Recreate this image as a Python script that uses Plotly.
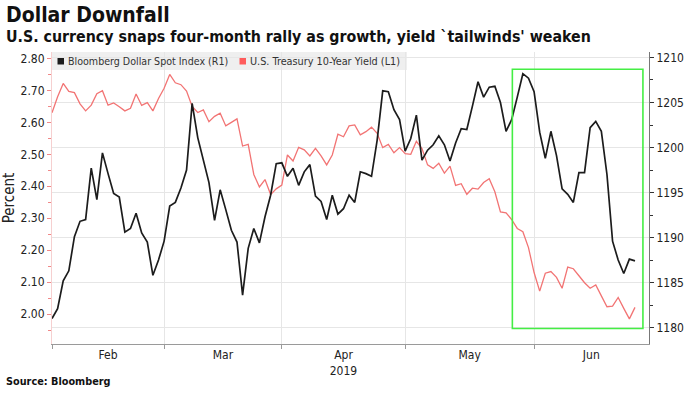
import pandas as pd
import plotly.graph_objects as go

# ---------------- data ----------------
start_date = "2019-02-01"  # first trading day shown; one value per weekday

dollar_index = [
    1181.0, 1182.1, 1185.2, 1186.3, 1190.1, 1191.8, 1192.0, 1197.7, 1194.2, 1199.4,
    1197.1, 1194.9, 1194.5, 1190.6, 1191.0, 1192.7, 1190.5, 1189.5, 1185.8, 1187.5,
    1189.6, 1193.5, 1193.9, 1195.5, 1197.5, 1204.9, 1201.1, 1198.6, 1196.1, 1191.9,
    1195.3, 1193.1, 1190.8, 1189.5, 1183.6, 1188.8, 1191.0, 1189.4, 1192.3, 1194.7,
    1198.2, 1198.3, 1196.8, 1197.7, 1195.8, 1197.3, 1198.1, 1194.6, 1194.0, 1192.0,
    1194.7, 1192.6, 1193.2, 1194.7, 1193.9, 1197.3, 1197.1, 1196.8, 1200.8, 1206.3,
    1206.2, 1204.2, 1203.1, 1199.6, 1201.0, 1203.6, 1198.6, 1199.7, 1200.3, 1201.3,
    1200.3, 1198.5, 1200.5, 1202.1, 1202.0, 1204.6, 1207.3, 1205.6, 1206.7, 1206.8,
    1205.0, 1201.8, 1203.1, 1205.6, 1208.2, 1207.7, 1206.2, 1201.7, 1198.8, 1201.8,
    1199.1, 1195.4, 1194.8, 1193.9, 1197.2, 1197.2, 1202.2, 1202.9, 1201.8, 1197.0,
    1189.6, 1187.5, 1186.0, 1187.6, 1187.4,
]

treasury_yield = [
    2.630, 2.680, 2.722, 2.697, 2.693, 2.658, 2.636, 2.654, 2.690, 2.699,
    2.654, 2.661, 2.649, 2.636, 2.644, 2.689, 2.653, 2.662, 2.636, 2.675,
    2.707, 2.750, 2.724, 2.718, 2.698, 2.650, 2.631, 2.639, 2.602, 2.619,
    2.629, 2.589, 2.600, 2.611, 2.526, 2.531, 2.437, 2.398, 2.421, 2.374,
    2.392, 2.404, 2.498, 2.479, 2.522, 2.514, 2.495, 2.519, 2.495, 2.467,
    2.498, 2.563, 2.555, 2.589, 2.592, 2.561, 2.571, 2.585, 2.566, 2.521,
    2.531, 2.505, 2.521, 2.502, 2.500, 2.541, 2.518, 2.467, 2.456, 2.472,
    2.441, 2.463, 2.403, 2.408, 2.375, 2.394, 2.391, 2.412, 2.424, 2.383,
    2.320, 2.317, 2.296, 2.268, 2.258, 2.208, 2.130, 2.072, 2.128, 2.133,
    2.115, 2.081, 2.147, 2.142, 2.120, 2.098, 2.081, 2.091, 2.057, 2.023,
    2.025, 2.052, 2.018, 1.985, 2.021,
]

month_labels = ["Feb", "Mar", "Apr<br>2019", "May", "Jun"]
month_label_dates = ["2019-02-15", "2019-03-15 12:00", "2019-04-16",
                     "2019-05-16 12:00", "2019-06-17 05:00"]
month_start_dates = ["2019-02-01", "2019-03-01", "2019-04-01", "2019-05-01", "2019-06-03"]

left_ticks = [2.00, 2.10, 2.20, 2.30, 2.40, 2.50, 2.60, 2.70, 2.80]
right_ticks = [1180, 1185, 1190, 1195, 1200, 1205, 1210]

highlight_x = ["2019-05-28 03:00", "2019-06-28 10:00"]
highlight_y = [1179.9, 1208.7]

series_names = ["Bloomberg Dollar Spot Index (R1)", "U.S. Treasury 10-Year Yield (L1)"]

# ---------------- layout helpers ----------------
W, H = 689, 393
ML, MR, MT, MB = 52, 40, 52, 49
PW, PH = W - ML - MR, H - MT - MB


def px(x):
    return (x - ML) / PW


def py(y):
    return (H - MB - y) / PH


FONT = "DejaVu Sans Condensed, DejaVu Sans, sans-serif"
BLACK = "#1c1c1c"
RED = "#f27474"

dates = pd.bdate_range(start_date, periods=len(dollar_index))

fig = go.Figure()
fig.add_trace(go.Scatter(x=dates, y=treasury_yield, name=series_names[1], mode="lines",
                         line=dict(color=RED, width=1.3), yaxis="y", showlegend=False))
fig.add_trace(go.Scatter(x=dates, y=dollar_index, name=series_names[0], mode="lines",
                         line=dict(color=BLACK, width=1.7), yaxis="y2", showlegend=False))

shapes = [
    # legend background
    dict(type="rect", xref="paper", yref="paper", x0=px(52), x1=px(407), y0=py(70), y1=py(52),
         fillcolor="#efefef", line=dict(width=0), layer="between"),
    dict(type="rect", xref="paper", yref="paper", x0=px(57.5), x1=px(64), y0=py(64.5), y1=py(58),
         fillcolor=BLACK, line=dict(width=0)),
    dict(type="rect", xref="paper", yref="paper", x0=px(239.5), x1=px(246), y0=py(64.5), y1=py(58),
         fillcolor="#ff5c5c", line=dict(width=0)),
    # highlight box
    dict(type="rect", xref="x", yref="y2", x0=highlight_x[0], x1=highlight_x[1],
         y0=highlight_y[0], y1=highlight_y[1], line=dict(color="#44ee44", width=1.6),
         fillcolor="rgba(0,0,0,0)"),
]

annotations = [
    dict(text="<b>Dollar Downfall</b>", xref="paper", yref="paper", x=px(4), y=py(15),
         xanchor="left", yanchor="middle", showarrow=False,
         font=dict(family=FONT, size=21, color="#111")),
    dict(text="<b>U.S. currency snaps four-month rally as growth, yield `tailwinds' weaken</b>",
         xref="paper", yref="paper", x=px(4), y=py(37), xanchor="left", yanchor="middle",
         showarrow=False, font=dict(family=FONT, size=15.8, color="#111")),
    dict(text="<b>Source: Bloomberg</b>", xref="paper", yref="paper", x=px(4), y=py(381),
         xanchor="left", yanchor="middle", showarrow=False,
         font=dict(family=FONT, size=10.8, color="#111")),
    dict(text=series_names[0], xref="paper", yref="paper", x=px(66), y=py(61.5),
         xanchor="left", yanchor="middle", showarrow=False,
         font=dict(family=FONT, size=10.6, color="#333")),
    dict(text=series_names[1], xref="paper", yref="paper", x=px(247.5), y=py(61.5),
         xanchor="left", yanchor="middle", showarrow=False,
         font=dict(family=FONT, size=10.8, color="#333")),
]

fig.update_layout(
    width=W, height=H,
    margin=dict(l=ML, r=MR, t=MT, b=MB, autoexpand=False),
    paper_bgcolor="white", plot_bgcolor="white",
    font=dict(family=FONT, size=12, color="#222"),
    showlegend=False,
    shapes=shapes, annotations=annotations,
    xaxis=dict(
        type="date", range=["2019-02-01", "2019-07-01 12:00"],
        rangebreaks=[dict(bounds=["sat", "mon"])],
        tickmode="array", tickvals=month_label_dates, ticktext=month_labels,
        ticks="", showgrid=False, zeroline=False,
        showline=True, linecolor="#9a9a9a", linewidth=1,
        tickfont=dict(family=FONT, size=12, color="#222"),
        minor=dict(tickmode="array", tickvals=month_start_dates, ticks="outside", ticklen=4,
                   tickcolor="#9a9a9a", showgrid=True, gridcolor="#e6e6e6", gridwidth=1),
    ),
    yaxis=dict(
        range=[1.9064, 2.8203], tickmode="array", tickvals=left_ticks, tickformat=".2f",
        ticks="outside", ticklen=4, tickcolor="#f08888", tickwidth=1,
        showline=True, linecolor="#f6d0d0", linewidth=1,
        showgrid=False, zeroline=False,
        tickfont=dict(family=FONT, size=12, color="#222"),
        title=dict(text="Percent", font=dict(family=FONT, size=15, color="#222"), standoff=5),
        minor=dict(tickmode="linear", tick0=1.95, dtick=0.1, ticks="outside", ticklen=3,
                   tickcolor="#f08888", showgrid=False),
    ),
    yaxis2=dict(
        overlaying="y", side="right", range=[1178.17, 1210.61],
        tickmode="array", tickvals=right_ticks,
        ticks="outside", ticklen=4, tickcolor="#333", tickwidth=1,
        showline=True, linecolor="#777", linewidth=1,
        showgrid=True, gridcolor="#e6e6e6", gridwidth=1, zeroline=False,
        tickfont=dict(family=FONT, size=12, color="#222"),
        minor=dict(tickmode="linear", tick0=1182.5, dtick=5, ticks="outside", ticklen=3,
                   tickcolor="#333", showgrid=False),
    ),
)

fig.write_html("out.html", config={"displayModeBar": False},
               post_script="document.body.style.margin='0';")
